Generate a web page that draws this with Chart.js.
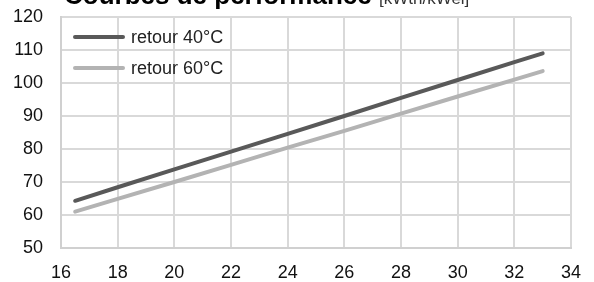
<!DOCTYPE html>
<html><head><meta charset="utf-8">
<script src="https://cdn.jsdelivr.net/npm/chart.js@4"></script>
<style>
html,body{margin:0;padding:0;background:#fff;overflow:hidden}
#wrap{position:relative;width:594px;height:282px;font-family:"Liberation Sans",Arial,sans-serif}
#title{position:absolute;left:64px;top:-20px;font-size:26px;font-weight:bold;color:#000;white-space:nowrap;line-height:30px}
#title span{font-weight:normal;font-size:17px;color:#333}
.leg{position:absolute;left:73px;font-size:18px;color:#222;display:flex;align-items:center;white-space:nowrap;line-height:20px}
.leg i{display:inline-block;width:52px;height:4px;margin-right:6px;border-radius:2px}
</style></head><body>
<div id="wrap">
<canvas id="c" width="594" height="282"></canvas>
<div id="title">Courbes de performance <span>[kWth/kWel]</span></div>
<div class="leg" style="top:27px"><i style="background:#595959"></i>retour 40°C</div>
<div class="leg" style="top:58px"><i style="background:#b3b3b3"></i>retour 60°C</div>
</div>
<script>
const xValues = [16.5, 18, 20, 22, 24, 26, 28, 30, 32, 33];
const retour40 = [64.3, 68.4, 73.8, 79.2, 84.6, 90.0, 95.5, 100.9, 106.3, 109.0];
const retour60 = [61.0, 64.9, 70.0, 75.2, 80.4, 85.5, 90.7, 95.9, 101.0, 103.6];
const seriesNames = ["retour 40°C", "retour 60°C"];

const toPts = (ys) => xValues.map((x, i) => ({x: x, y: ys[i]}));
const tickFont = { family: 'Liberation Sans', size: 18 };
new Chart(document.getElementById('c'), {
  type: 'line',
  data: { datasets: [
    { label: seriesNames[0], data: toPts(retour40), borderColor: '#595959', borderWidth: 4, pointRadius: 0, borderCapStyle: 'round', tension: 0 },
    { label: seriesNames[1], data: toPts(retour60), borderColor: '#b3b3b3', borderWidth: 4, pointRadius: 0, borderCapStyle: 'round', tension: 0 }
  ]},
  options: {
    responsive: false, animation: false,
    layout: { padding: { top: 17, right: 23, left: 0, bottom: 0 } },
    plugins: { legend: { display: false }, tooltip: { enabled: false } },
    scales: {
      x: { type: 'linear', min: 16, max: 34,
        ticks: { stepSize: 2, color: '#111', font: tickFont, padding: 14, maxRotation: 0 },
        grid: { color: '#d9d9d9', lineWidth: 2, drawTicks: false },
        border: { color: '#d0d0d0', width: 2 },
        afterFit: s => { s.height = 34; s.paddingLeft = 0; s.paddingRight = 0; } },
      y: { min: 50, max: 120,
        ticks: { stepSize: 10, color: '#111', font: tickFont, padding: 18 },
        grid: { color: '#d9d9d9', lineWidth: 2, drawTicks: false },
        border: { color: '#d0d0d0', width: 2 },
        afterFit: s => { s.width = 61; s.paddingTop = 0; s.paddingBottom = 0; } }
    }
  }
});
</script>
</body></html>
